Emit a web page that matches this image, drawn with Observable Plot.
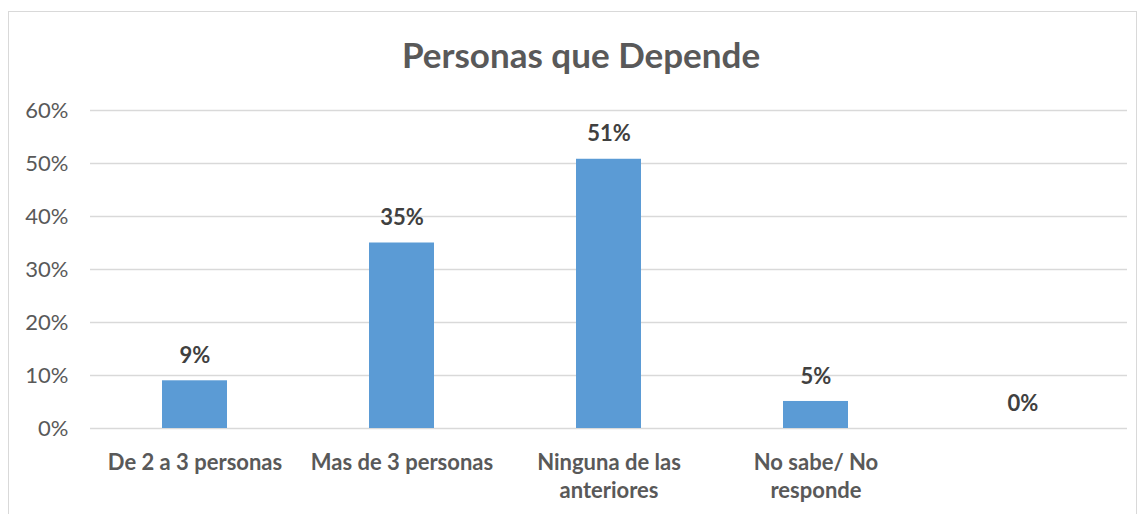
<!DOCTYPE html>
<html><head><meta charset="utf-8">
<script src="https://cdn.jsdelivr.net/npm/d3@7"></script>
<script src="https://cdn.jsdelivr.net/npm/@observablehq/plot@0.6"></script>
<style>
html,body{margin:0;padding:0;background:#fff;}
#wrap{position:relative;width:1141px;height:514px;overflow:hidden;font-family:Lato,"Open Sans",sans-serif;}
#frame{position:absolute;left:8px;top:11px;width:1129px;height:520px;border:1px solid #d9d9d9;box-sizing:border-box;}
#title{position:absolute;left:0;width:1162px;top:33px;text-align:center;font-size:35px;font-weight:bold;color:#595959;line-height:42px;}
#chart{position:absolute;left:0;top:0;}
</style></head>
<body><div id="wrap"><div id="frame"></div><div id="title">Personas que Depende</div><div id="chart"></div></div>
<script>
const categories = ["De 2 a 3 personas", "Mas de 3 personas", "Ninguna de las anteriores", "No sabe/ No responde", ""];
const tickLabels = ["De 2 a 3 personas", "Mas de 3 personas", "Ninguna de las\nanteriores", "No sabe/ No\nresponde", ""];
const values = [0.09, 0.35, 0.508, 0.051, 0];
const valueLabels = ["9%", "35%", "51%", "5%", "0%"];
const yTicks = [0, 0.1, 0.2, 0.3, 0.4, 0.5, 0.6];

const data = categories.map((c, i) => ({cat: c, value: values[i], label: valueLabels[i]}));
const tickMap = new Map(categories.map((c, i) => [c, tickLabels[i]]));

const chart = Plot.plot({
  width: 1141, height: 514,
  marginLeft: 90, marginRight: 14, marginTop: 110, marginBottom: 86,
  style: {fontFamily: "Lato, 'Open Sans', sans-serif", background: "transparent", overflow: "visible"},
  x: {domain: categories, paddingInner: 0.687, paddingOuter: 0.3435, label: null},
  y: {domain: [0, 0.6], ticks: yTicks, label: null},
  marks: [
    Plot.gridY(yTicks, {stroke: "#d9d9d9", strokeOpacity: 1, strokeWidth: 1.3}),
    Plot.axisY(yTicks, {tickFormat: d => Math.round(d * 100) + "%", tickSize: 0, tickPadding: 22, fontSize: 22, fill: "#595959", textAnchor: "end"}),
    Plot.axisX({tickFormat: d => tickMap.get(d), tickSize: 0, tickPadding: 22, fontSize: 22, fontWeight: "bold", fill: "#595959", lineHeight: 1.25}),
    Plot.barY(data, {x: "cat", y: "value", fill: "#5B9BD5"}),
    Plot.text(data, {x: "cat", y: "value", text: "label", dy: -25, fontSize: 22, fontWeight: "bold", fill: "#404040"})
  ]
});
document.getElementById("chart").appendChild(chart);
</script></body></html>
